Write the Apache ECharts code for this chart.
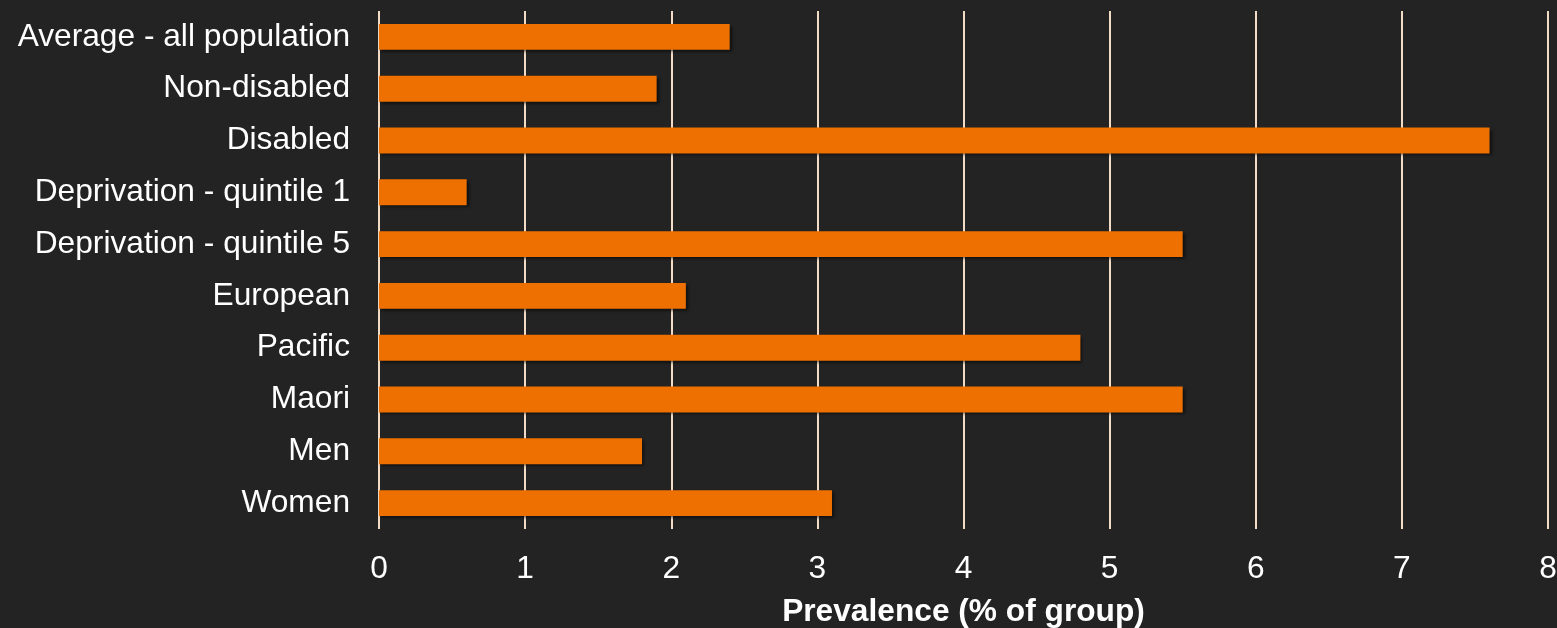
<!DOCTYPE html>
<html>
<head>
<meta charset="utf-8">
<script src="https://cdn.jsdelivr.net/npm/echarts@6/dist/echarts.min.js"></script>
<style>
  html, body { margin: 0; padding: 0; background: #232323; }
  #chart { width: 1557px; height: 628px; }
</style>
</head>
<body>
<div id="chart"></div>
<script>
// groups, top to bottom
const groups = ['Average - all population', 'Non-disabled', 'Disabled', 'Deprivation - quintile 1',
    'Deprivation - quintile 5', 'European', 'Pacific', 'Maori', 'Men', 'Women'];
const prevalence = [2.4, 1.9, 7.6, 0.6, 5.5, 2.1, 4.8, 5.5, 1.8, 3.1];
const xTicks = [0, 1, 2, 3, 4, 5, 6, 7, 8];

const font = 'Arial, "Liberation Sans", sans-serif';

let chart = echarts.init(document.getElementById('chart'));
chart.setOption({
    backgroundColor: '#232323',
    animation: false,
    grid: {left: 379, right: 9, top: 11, bottom: 99, outerBoundsMode: 'none', containLabel: false},
    xAxis: {
        type: 'value',
        min: xTicks[0],
        max: xTicks[xTicks.length - 1],
        interval: 1,
        name: 'Prevalence (% of group)',
        nameLocation: 'middle',
        nameGap: 67,
        nameTextStyle: {color: '#ffffff', fontSize: 31.7, fontWeight: 'bold', fontFamily: font},
        axisLine: {show: false},
        axisTick: {show: false},
        axisLabel: {color: '#ffffff', fontSize: 31.7, fontFamily: font, margin: 24},
        splitLine: {lineStyle: {color: '#f2dcc6', width: 2}}
    },
    yAxis: {
        type: 'category',
        data: groups,
        inverse: true,
        axisLine: {show: false},
        axisTick: {show: false},
        axisLabel: {color: '#ffffff', fontSize: 31.7, fontFamily: font, margin: 29, padding: [4, 0, 0, 0]},
        splitLine: {show: false}
    },
    series: [{
        type: 'bar',
        data: prevalence,
        barWidth: '50%',
        itemStyle: {
            color: '#ee7000',
            shadowColor: 'rgba(0,0,0,0.6)',
            shadowBlur: 3,
            shadowOffsetX: 2,
            shadowOffsetY: 2
        }
    }]
});
</script>
</body>
</html>
